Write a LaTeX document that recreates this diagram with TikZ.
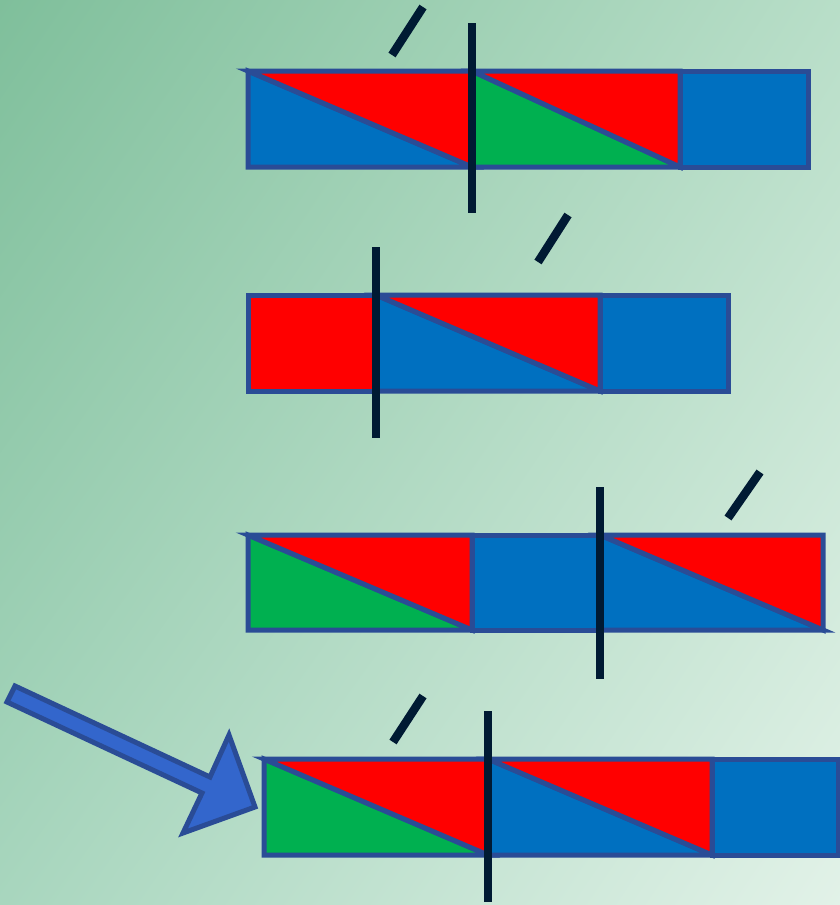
\documentclass[tikz,border=0pt]{standalone}
\usetikzlibrary{positioning,shadings}
\definecolor{bgtl}{HTML}{7FBF9B}
\definecolor{bgtr}{HTML}{B8DEC8}
\definecolor{bgbl}{HTML}{A8D6BE}
\definecolor{bgbr}{HTML}{E2F2E8}
\definecolor{rim}{HTML}{2A4C96}
\definecolor{cellblue}{HTML}{0070C0}
\definecolor{cellred}{HTML}{FF0000}
\definecolor{cellgreen}{HTML}{00B050}
\definecolor{cutline}{HTML}{001A33}
\definecolor{arrowblue}{HTML}{3366CC}
\begin{document}
\begin{tikzpicture}[x=1pt,y=-1pt]
  \tikzset{
    cell/.style={draw=rim,line width=5pt,line join=miter},
    cut/.style={draw=cutline,line width=7.5pt},
    tick/.style={draw=cutline,line width=8.5pt},
    pointer/.style={draw=rim,fill=arrowblue,line width=5pt,line join=miter},
  }
  \useasboundingbox (0,0) rectangle (840,905);
  \shade[upper left=bgtl,upper right=bgtr,lower left=bgbl,lower right=bgbr]
    (0,0) rectangle (840,905);

  % first row
  \filldraw[cell,fill=cellblue] (248,167) -- (472,167) -- (248,71) -- cycle;
  \filldraw[cell,fill=cellred]  (248,71) -- (472,71) -- (472,167) -- cycle;
  \filldraw[cell,fill=cellgreen] (472,167) -- (680,167) -- (472,71) -- cycle;
  \filldraw[cell,fill=cellred]  (472,71) -- (680,71) -- (680,167) -- cycle;
  \filldraw[cell,fill=cellblue] (680,71) rectangle (808,167);
  \coordinate (c1t) at (472,23);
  \coordinate (c1b) at (472,213);
  \draw[cut] (c1t) -- (c1b);
  \draw[tick] (392,55) -- (423,7);

  % second row
  \filldraw[cell,fill=cellred]  (248,295) rectangle (376,391);
  \filldraw[cell,fill=cellblue] (376,391) -- (600,391) -- (376,295) -- cycle;
  \filldraw[cell,fill=cellred]  (376,295) -- (600,295) -- (600,391) -- cycle;
  \filldraw[cell,fill=cellblue] (600,295) rectangle (728,391);
  \coordinate (c2t) at (376,247);
  \coordinate (c2b) at (376,438);
  \draw[cut] (c2t) -- (c2b);
  \draw[tick] (538,262) -- (568,215);

  % third row
  \filldraw[cell,fill=cellgreen] (248,630) -- (472,630) -- (248,535) -- cycle;
  \filldraw[cell,fill=cellred]  (248,535) -- (472,535) -- (472,630) -- cycle;
  \filldraw[cell,fill=cellblue] (472,535) rectangle (600,630);
  \filldraw[cell,fill=cellblue] (600,630) -- (823,630) -- (600,535) -- cycle;
  \filldraw[cell,fill=cellred]  (600,535) -- (823,535) -- (823,630) -- cycle;
  \coordinate (c3t) at (600,487);
  \coordinate (c3b) at (600,679);
  \draw[cut] (c3t) -- (c3b);
  \draw[tick] (728,518) -- (760,472);

  % fourth row
  \filldraw[cell,fill=cellgreen] (264,855) -- (488,855) -- (264,759) -- cycle;
  \filldraw[cell,fill=cellred]  (264,759) -- (488,759) -- (488,855) -- cycle;
  \filldraw[cell,fill=cellblue] (488,855) -- (712,855) -- (488,759) -- cycle;
  \filldraw[cell,fill=cellred]  (488,759) -- (712,759) -- (712,855) -- cycle;
  \filldraw[cell,fill=cellblue] (712,759) rectangle (838,855);
  \coordinate (c4t) at (488,711);
  \coordinate (c4b) at (488,902);
  \draw[cut] (c4t) -- (c4b);
  \draw[tick] (393,742) -- (423,696);

  % big arrow
  \filldraw[pointer] (15,686) -- (210,777) -- (229,735) -- (255,807)
    -- (183,833) -- (202,793) -- (7,702) -- cycle;
\end{tikzpicture}
\end{document}
